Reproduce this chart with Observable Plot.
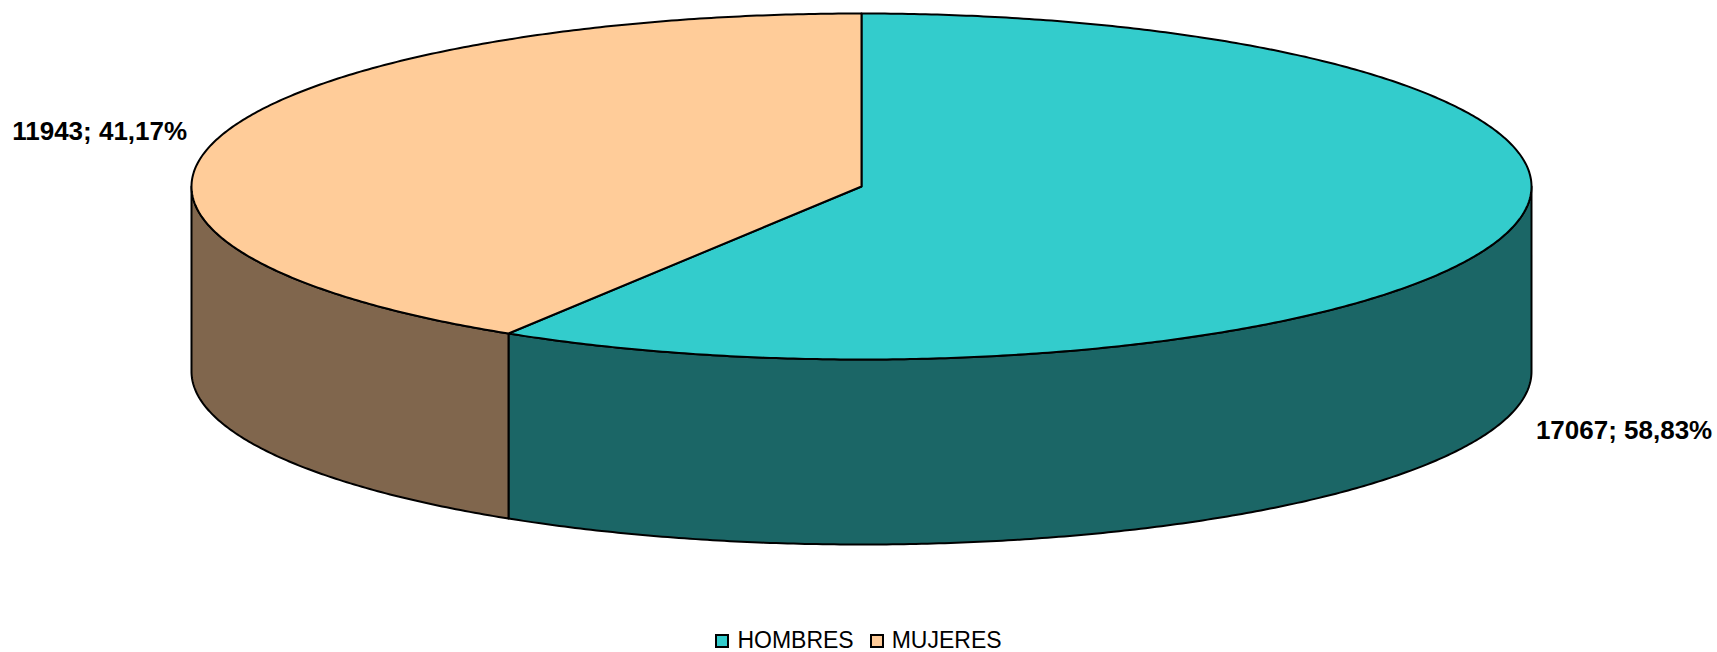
<!DOCTYPE html>
<html>
<head>
<meta charset="utf-8">
<script src="https://cdn.jsdelivr.net/npm/d3@7"></script>
<script src="https://cdn.jsdelivr.net/npm/@observablehq/plot@0.6"></script>
<style>
  html, body { margin: 0; padding: 0; background: #fff; }
  body { width: 1717px; height: 652px; overflow: hidden; font-family: "Liberation Sans", Arial, sans-serif; }
  #legend { height: 24px; display: flex; justify-content: center; align-items: center; font-size: 23px; color: #000; }
  .item { display: flex; align-items: center; margin: 0 8px; }
  .sw { box-sizing: border-box; width: 14px; height: 14px; border: 2px solid #000; margin-right: 8px; margin-top: 2px; }
</style>
</head>
<body>
<div id="chart"></div>
<div id="legend"></div>
<script>
const categories = ["HOMBRES", "MUJERES"];
const values = [17067, 11943];
const topColors = ["#33CCCC", "#FFCC99"];
const sideColors = ["#1B6666", "#80664D"];

const W = 1717, H = 628;
const cx = 861, cy = 186, rx = 670, ry = 173, depth = 185;

const total = d3.sum(values);
const fmtPct = v => (v * 100).toFixed(2).replace(".", ",") + "%";

const pt = (a, dy = 0) => [cx + rx * Math.sin(a), cy - ry * Math.cos(a) + dy];
const arc = (a0, a1, dy = 0) => {
  const n = Math.max(2, Math.ceil(Math.abs(a1 - a0) / (Math.PI / 360)));
  return d3.range(n + 1).map(i => pt(a0 + (a1 - a0) * i / n, dy));
};

let acc = 0;
const slices = values.map((v, i) => {
  const a0 = acc / total * 2 * Math.PI;
  acc += v;
  const a1 = acc / total * 2 * Math.PI;
  return {cat: categories[i], value: v, frac: v / total, a0, a1, i};
});

const marks = [];
// front side walls
for (const s of slices) {
  const lo = Math.max(s.a0, Math.PI / 2), hi = Math.min(s.a1, 3 * Math.PI / 2);
  if (hi <= lo) continue;
  const poly = [...arc(lo, hi), ...arc(hi, lo, depth)];
  marks.push(Plot.line(poly, {x: d => d[0], y: d => d[1], fill: sideColors[s.i], stroke: "#000", strokeWidth: 2, curve: "linear-closed"}));
}
// top wedges
for (const s of slices) {
  const poly = [[cx, cy], ...arc(s.a0, s.a1)];
  marks.push(Plot.line(poly, {x: d => d[0], y: d => d[1], fill: topColors[s.i], stroke: "#000", strokeWidth: 2, curve: "linear-closed"}));
}
// labels
const labels = slices.map(s => {
  const m = (s.a0 + s.a1) / 2;
  const right = Math.sin(m) > 0;
  const front = Math.cos(m) < 0;
  const p = pt(m, front ? depth : 0);
  return {
    text: `${s.value}; ${fmtPct(s.frac)}`,
    x: p[0] + (right ? 30 : -30),
    y: p[1] + (front ? 12 : -7),
    anchor: right ? "start" : "end"
  };
});
for (const l of labels) {
  marks.push(Plot.text([l], {x: "x", y: "y", text: "text", textAnchor: l.anchor, fontSize: 26, fontWeight: "bold", fill: "#000", fontFamily: "Liberation Sans, Arial, sans-serif"}));
}

const chart = Plot.plot({
  width: W, height: H,
  margin: 0,
  x: {domain: [0, W], range: [0, W], axis: null},
  y: {domain: [0, H], range: [0, H], axis: null},
  style: {background: "#fff"},
  marks
});
document.getElementById("chart").appendChild(chart);

const leg = document.getElementById("legend");
categories.forEach((c, i) => {
  const it = document.createElement("div");
  it.className = "item";
  const sw = document.createElement("div");
  sw.className = "sw";
  sw.style.background = topColors[i];
  it.appendChild(sw);
  const t = document.createElement("span");
  t.textContent = c;
  it.appendChild(t);
  leg.appendChild(it);
});
</script>
</body>
</html>
